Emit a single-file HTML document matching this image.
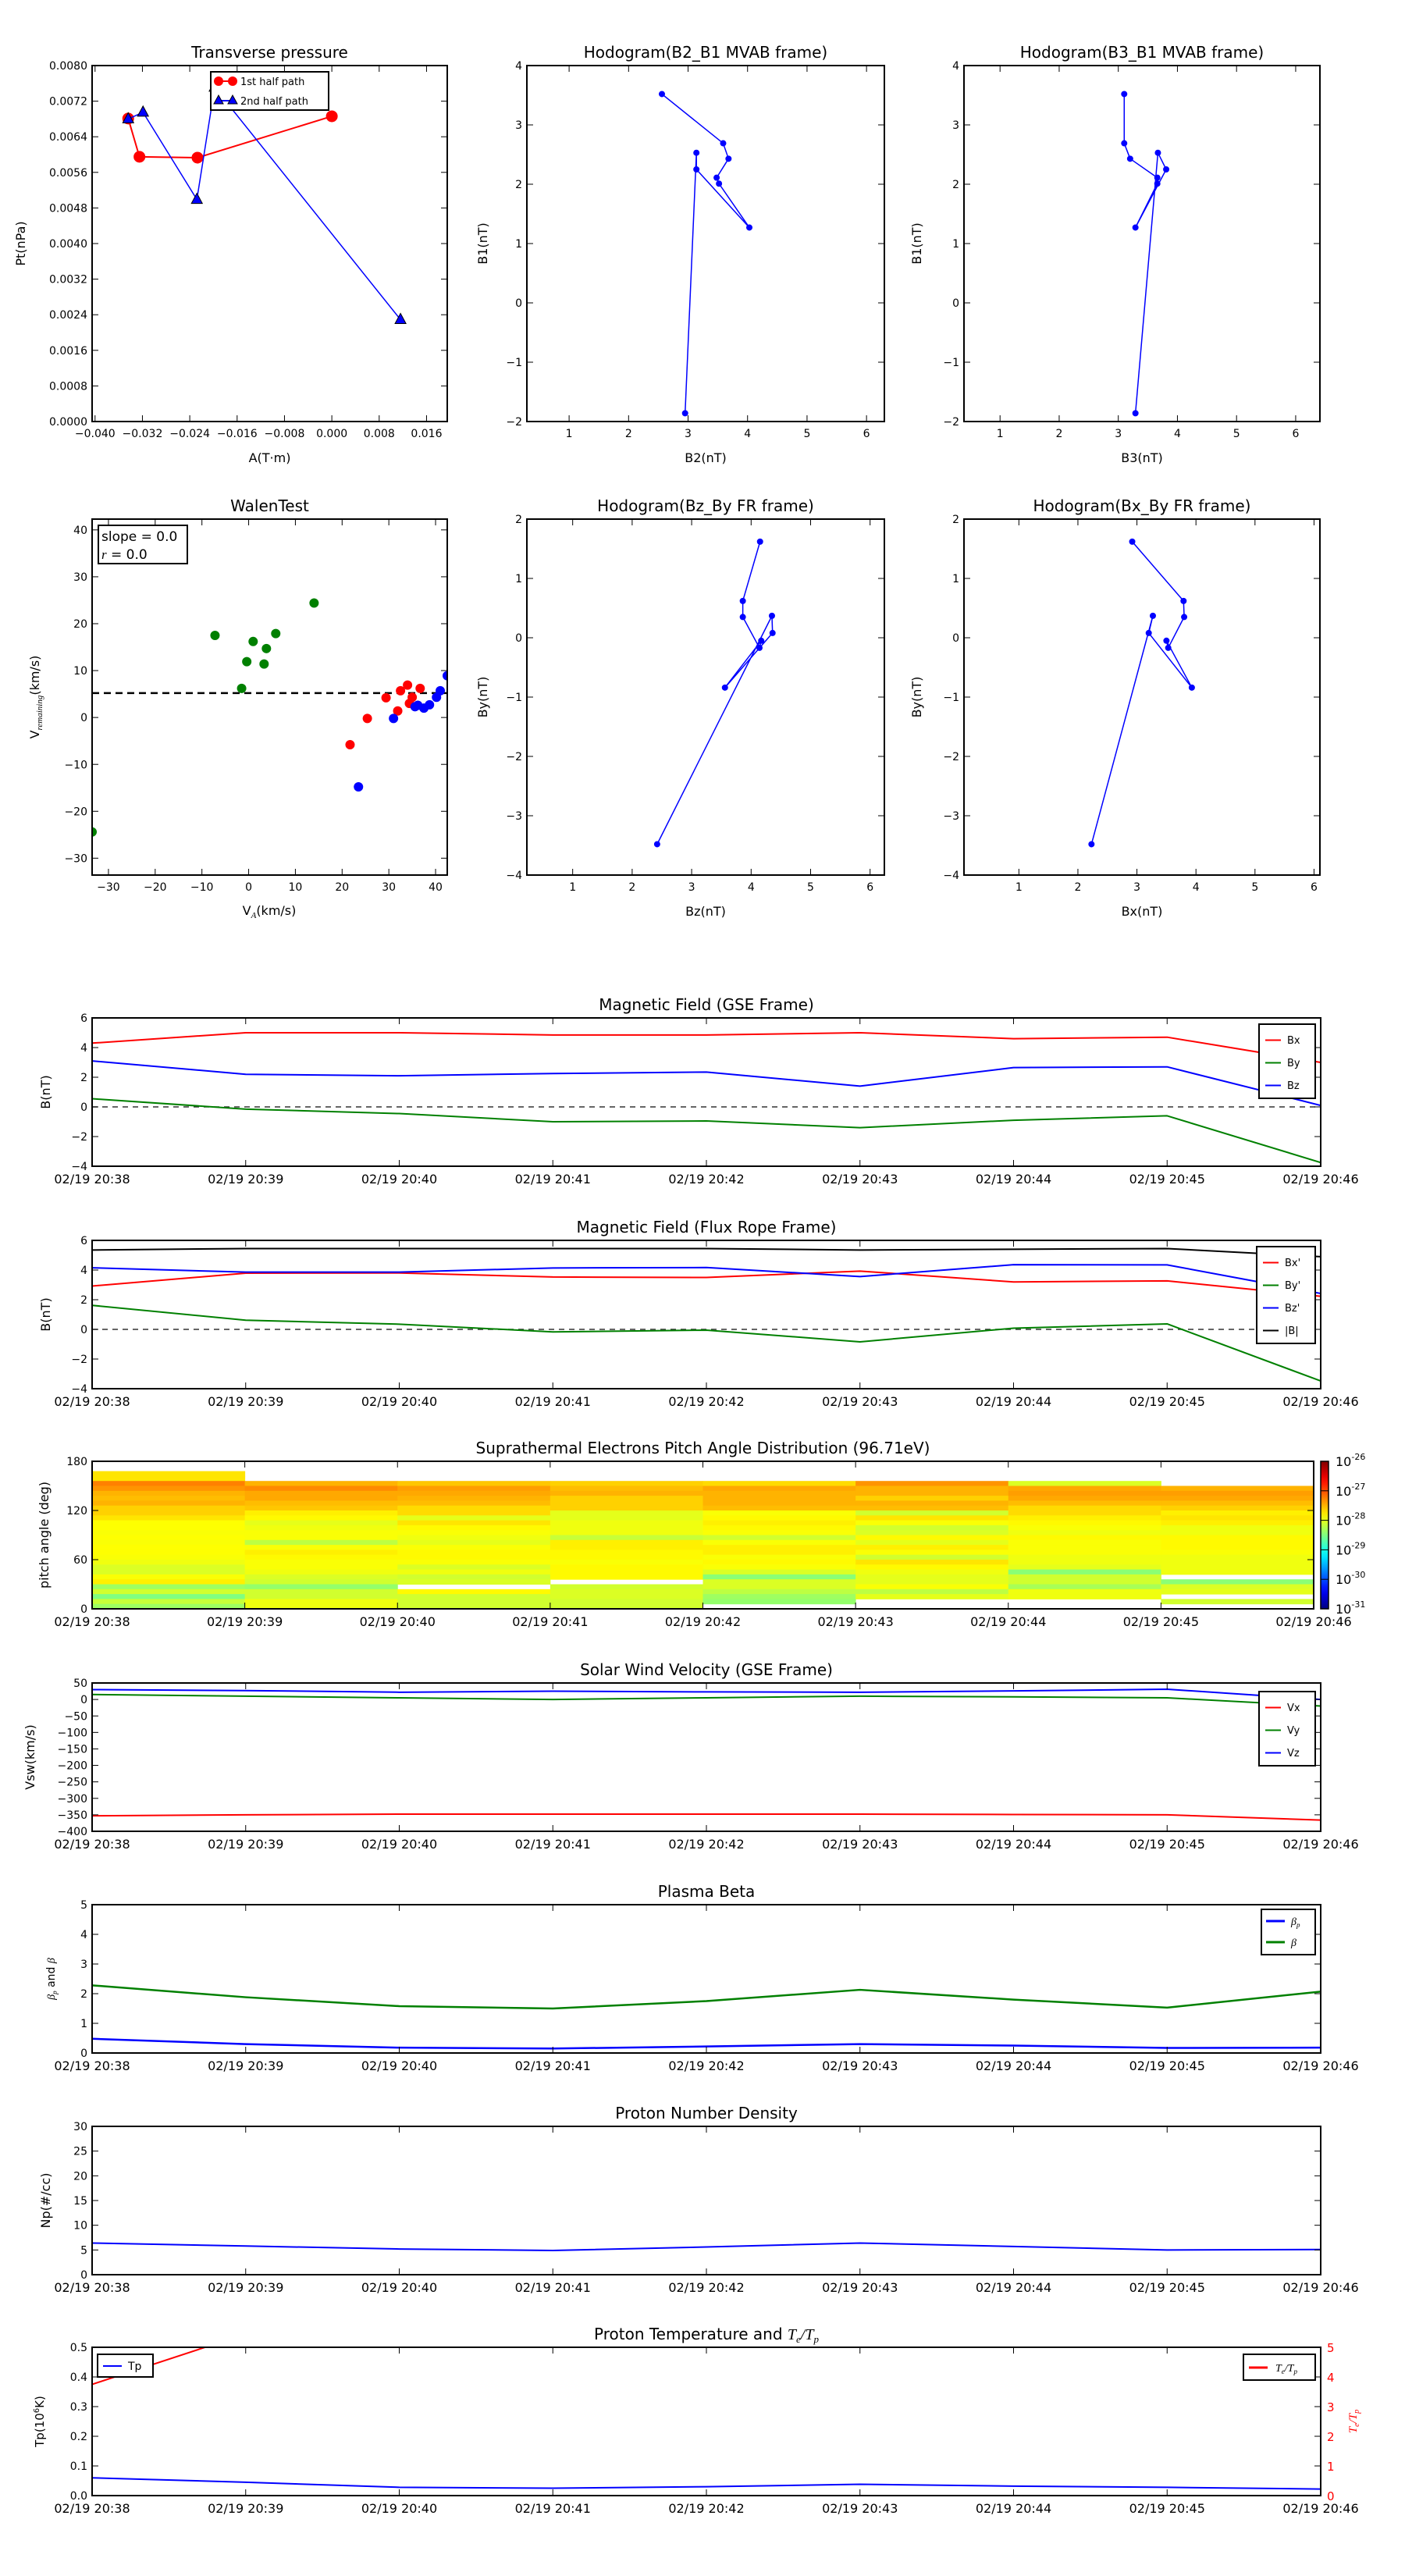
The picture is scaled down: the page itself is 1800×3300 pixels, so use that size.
<!DOCTYPE html>
<html><head><meta charset="utf-8"><title>Flux rope analysis</title>
<style>
html,body{margin:0;padding:0;background:#fff;}
svg{display:block;font-family:"DejaVu Sans","Liberation Sans",sans-serif;}
</style></head>
<body>
<svg id="chart" xmlns="http://www.w3.org/2000/svg" width="1800" height="3300" viewBox="0 0 1800 3300"></svg>
<script>
// ---------- DATA ----------
const timeLabels = ['02/19 20:38','02/19 20:39','02/19 20:40','02/19 20:41','02/19 20:42','02/19 20:43','02/19 20:44','02/19 20:45','02/19 20:46'];
const timeIdx = [0,1,2,3,4,5,6,7,8];
// Transverse pressure
const ptA1 = [-0.0344,-0.0325,-0.0227,0.0];
const ptP1 = [0.00681,0.00595,0.00593,0.00686];
const ptA2 = [-0.0344,-0.0319,-0.0228,-0.0198,0.0116];
const ptP2 = [0.0068,0.00695,0.00499,0.00751,0.00229];
// MVAB hodograms
const mvB1 = [3.52,2.69,2.43,2.11,2.01,1.27,2.25,2.53,-1.86];
const mvB2 = [2.56,3.59,3.68,3.48,3.52,4.03,3.14,3.14,2.95];
const mvB3 = [3.10,3.10,3.20,3.66,3.66,3.29,3.81,3.67,3.29];
// Flux rope frame
const frBx = [2.92,3.79,3.80,3.53,3.50,3.93,3.20,3.27,2.23];
const frBy = [1.62,0.62,0.35,-0.17,-0.05,-0.84,0.08,0.37,-3.48];
const frBz = [4.15,3.86,3.86,4.14,4.17,3.56,4.36,4.35,2.42];
const frBt = [5.35,5.45,5.45,5.45,5.45,5.35,5.4,5.45,4.9];
// Walen test
const walenGreenX = [-33.5,-7.2,0.96,-0.4,3.3,3.8,5.8,14,-1.5];
const walenGreenY = [-24.4,17.5,16.2,11.9,11.4,14.7,17.9,24.4,6.2];
const walenRedX = [21.7,25.4,29.4,31.9,32.5,34.0,34.4,35,36.7];
const walenRedY = [-5.8,-0.2,4.2,1.4,5.7,6.9,3.0,4.3,6.2];
const walenBlueX = [23.5,31,35.6,36.2,37.5,38.7,40.2,41,42.5];
const walenBlueY = [-14.8,-0.2,2.3,2.6,2.0,2.7,4.3,5.7,8.9];
const walenRef = 5.2;
// GSE field
const gseBx = [4.3,5.0,5.0,4.85,4.85,5.0,4.6,4.7,3.0];
const gseBy = [0.55,-0.15,-0.45,-1.0,-0.95,-1.4,-0.9,-0.6,-3.75];
const gseBz = [3.1,2.2,2.1,2.25,2.35,1.4,2.65,2.7,0.1];
// Solar wind
const vx = [-353,-350,-348,-348,-348,-348,-349,-350,-366];
const vy = [15,10,5,0,5,10,8,5,-20];
const vz = [30,27,22,25,23,22,26,31,0];
// Plasma beta
const betaP = [0.48,0.3,0.18,0.15,0.22,0.3,0.25,0.17,0.18];
const betaT = [2.28,1.88,1.58,1.5,1.75,2.13,1.8,1.53,2.07];
// Density / temperature
const np = [6.4,5.8,5.2,4.9,5.6,6.4,5.7,5.0,5.1];
const tp = [0.06,0.045,0.028,0.025,0.03,0.038,0.032,0.028,0.022];
const teTpTime = [0,1];
const teTp = [3.75,5.45];
// Pitch angle distribution: log10 values, rows from top (174-180 deg) down to 0-6 deg
const N = null;
const padCol0 = [N,N,-27.75,-27.75,-27.25,-27.35,-27.5,-27.55,-27.5,-27.65,-27.65,-27.75,-27.88,-27.88,-27.9,-27.88,-27.9,-27.88,-27.88,-27.9,-27.95,-28.05,-28.05,-27.9,-27.8,-28.35,-28.1,-28.5,-28.15,-28.35];
const padCol1 = [N,N,N,N,-27.5,-27.3,-27.45,-27.45,-27.55,-27.6,-27.8,-27.85,-28.0,-27.95,-27.9,-27.9,-28.2,-27.9,-27.8,-27.85,-27.9,-27.9,-27.95,-28.05,-28.1,-28.4,-28.1,-28.1,-27.95,-27.95];
const padCol2 = [N,N,N,N,-27.6,-27.4,-27.45,-27.5,-27.55,-27.7,-27.7,-28.0,-27.75,-27.85,-27.9,-27.95,-28.0,-27.9,-27.85,-27.85,-27.9,-28.05,-27.95,-28.1,-28.05,N,-27.85,-28.1,-28.1,-28.1];
const padCol3 = [N,N,N,N,-27.65,-27.55,-27.5,-27.65,-27.65,-27.65,-28.0,-28.0,-27.95,-27.95,-27.95,-28.15,-27.8,-27.8,-27.85,-27.85,-27.9,-27.85,-27.85,-27.85,N,-28.1,-28.05,-28.05,-28.1,-28.1];
const padCol4 = [N,N,N,N,-27.7,-27.45,-27.5,-27.5,-27.5,-27.55,-27.9,-27.85,-27.8,-27.85,-27.9,-28.1,-27.9,-27.8,-27.8,-27.9,-27.85,-27.9,-28.05,-28.45,-28.05,-28.05,-28.2,-28.35,-28.4,N];
const padCol5 = [N,N,N,N,-27.35,-27.5,-27.5,-27.65,-27.5,-27.55,-28.1,-27.75,-27.9,-28.1,-28.05,-27.85,-28.0,-27.8,-27.9,-28.1,-27.75,-27.85,-27.95,-28.0,-28.0,-27.9,-28.2,-28.0,N,N];
const padCol6 = [N,N,N,N,-28.05,-27.45,-27.4,-27.45,-27.55,-27.7,-27.7,-27.8,-27.85,-27.9,-27.95,-27.85,-27.9,-27.9,-27.9,-27.95,-27.95,-28.0,-28.45,-28.1,-28.1,-28.3,-27.95,-27.95,N,N];
const padCol7 = [N,N,N,N,N,-27.5,-27.4,-27.45,-27.55,-27.65,-27.8,-27.75,-27.8,-27.95,-27.95,-27.85,-27.85,-27.85,-27.9,-27.95,-27.95,-27.95,-27.95,N,-28.45,-28.05,-28.0,N,-28.1,N];
const padCols = [padCol0,padCol1,padCol2,padCol3,padCol4,padCol5,padCol6,padCol7];
const cbTicks = [-31,-30,-29,-28,-27,-26];

// ---------- HELPERS ----------
const NS = 'http://www.w3.org/2000/svg';
const svg = document.getElementById('chart');
function mk(tag, attrs, parent){
  const e = document.createElementNS(NS, tag);
  for (const k in attrs) e.setAttribute(k, attrs[k]);
  parent.appendChild(e);
  return e;
}
function txt(parent, x, y, s, size, anchor, extra){
  const a = {x:x, y:y, 'font-size':size, 'text-anchor':anchor||'middle', fill:'#000'};
  if (extra) for (const k in extra) a[k] = extra[k];
  const t = mk('text', a, parent);
  t.textContent = s;
  return t;
}
let clipId = 0;
function makeAxes(name, box, xd, yd, xt, xtl, yt, ytl, xfs, yfs){
  const g = mk('g', {}, svg);
  
  
  const sx = v => box.x + (v - xd[0]) / (xd[1] - xd[0]) * box.w;
  const sy = v => box.y + box.h - (v - yd[0]) / (yd[1] - yd[0]) * box.h;
  const cid = 'clip' + (clipId++);
  const cp = mk('clipPath', {id: cid}, g);
  mk('rect', {x: box.x, y: box.y, width: box.w, height: box.h}, cp);
  const data = mk('g', {'clip-path': 'url(#' + cid + ')'}, g);
  
  
  const fr = mk('g', {}, g);
  xt.forEach((v, i) => {
    const x = sx(v);
    mk('line', {x1:x, x2:x, y1:box.y+box.h, y2:box.y+box.h-8, stroke:'#000', 'stroke-width':1}, fr);
    mk('line', {x1:x, x2:x, y1:box.y, y2:box.y+8, stroke:'#000', 'stroke-width':1}, fr);
    const t = txt(fr, x, box.y + box.h + (xfs > 15 ? 22 : 20), xtl[i], xfs);
    
    
  });
  yt.forEach((v, i) => {
    const y = sy(v);
    mk('line', {x1:box.x, x2:box.x+8, y1:y, y2:y, stroke:'#000', 'stroke-width':1}, fr);
    mk('line', {x1:box.x+box.w, x2:box.x+box.w-8, y1:y, y2:y, stroke:'#000', 'stroke-width':1}, fr);
    const t = txt(fr, box.x - 6, y + yfs*0.36, ytl[i], yfs, 'end');
    
    
  });
  const frame = mk('rect', {x:box.x, y:box.y, width:box.w, height:box.h, fill:'none', stroke:'#000', 'stroke-width':2}, fr);
  
  
  return {g, data, fr, sx, sy, box};
}
function polyline(ax, xs, ys, color, w, name){
  const pts = xs.map((x, i) => ax.sx(x).toFixed(2) + ',' + ax.sy(ys[i]).toFixed(2)).join(' ');
  const p = mk('polyline', {points: pts, fill:'none', stroke: color, 'stroke-width': w, 'stroke-linejoin':'round'}, ax.data);
  
  
  return p;
}
function dots(ax, xs, ys, color, r, name){
  xs.forEach((x, i) => {
    const c = mk('circle', {cx: ax.sx(x), cy: ax.sy(ys[i]), r: r, fill: color, stroke: color}, ax.data);
    
    
  });
}
function title(ax, s, dy){
  const t = txt(svg, ax.box.x + ax.box.w/2, ax.box.y - (dy||10), s, 20);
  
  
  return t;
}
function xlabel(ax, s, dy){
  const t = txt(svg, ax.box.x + ax.box.w/2, ax.box.y + ax.box.h + (dy||48), s, 16);
  
  
  return t;
}
function ylabel(ax, s, x){
  const cy = ax.box.y + ax.box.h/2;
  const t = txt(svg, x, cy, s, 16, 'middle', {transform: 'rotate(-90 ' + x + ' ' + cy + ')'});
  
  
  return t;
}
function fmt(v, d){ const s = v.toFixed(d); return v < 0 ? '\u2212' + s.slice(1) : s; }
function legend(x, y, w, entries, fs){
  const g = mk('g', {}, svg);
  
  
  const h = entries.length * (fs + 16) + 8;
  mk('rect', {x:x, y:y, width:w, height:h, fill:'#fff', stroke:'#000', 'stroke-width':2}, g);
  entries.forEach((e, i) => {
    const yy = y + 4 + (fs + 16) * (i + 0.5) + 2;
    const it = mk('g', {}, g);
    
    
    mk('line', {x1:x+8, x2:x+28, y1:yy, y2:yy, stroke:e.c, 'stroke-width':2}, it);
    txt(it, x+36, yy + fs*0.35, e.t, fs, 'start');
  });
  return g;
}

// ---------- TOP ROW ----------
const ptXt = [-0.040,-0.032,-0.024,-0.016,-0.008,0.0,0.008,0.016];
const ptYt = [0,0.0008,0.0016,0.0024,0.0032,0.0040,0.0048,0.0056,0.0064,0.0072,0.0080];
const axP = makeAxes('transverse-pressure-chart', {x:118,y:84,w:455,h:456}, [-0.0405,0.0195], [0,0.008],
  ptXt, ptXt.map(v => fmt(v,3)), ptYt, ptYt.map(v => fmt(v,4)), 14, 14);
title(axP, 'Transverse pressure');
xlabel(axP, 'A(T\u00b7m)', 52);
ylabel(axP, 'Pt(nPa)', 32);
polyline(axP, ptA1, ptP1, '#f00', 2, 'first-half-path-line');
dots(axP, ptA1, ptP1, '#f00', 7, 'first-half-point');
polyline(axP, ptA2, ptP2, '#00f', 1.5, 'second-half-path-line');
ptA2.forEach((a, i) => {
  const x = axP.sx(a), y = axP.sy(ptP2[i]);
  const tri = mk('polygon', {points: x+','+(y-8)+' '+(x-7)+','+(y+5)+' '+(x+7)+','+(y+5), fill:'#00f', stroke:'#000', 'stroke-width':1}, axP.data);
  
  
});
{
  const lg = mk('g', {}, svg);
  
  
  mk('rect', {x:270, y:92, width:151, height:49, fill:'#fff', stroke:'#000', 'stroke-width':2}, lg);
  mk('line', {x1:276, x2:302, y1:104, y2:104, stroke:'#f00', 'stroke-width':2}, lg);
  mk('circle', {cx:280, cy:104, r:6, fill:'#f00'}, lg);
  mk('circle', {cx:298, cy:104, r:6, fill:'#f00'}, lg);
  txt(lg, 308, 109, '1st half path', 13, 'start');
  mk('line', {x1:276, x2:302, y1:129, y2:129, stroke:'#00f', 'stroke-width':2}, lg);
  mk('polygon', {points:'280,122 274,133 286,133', fill:'#00f', stroke:'#000'}, lg);
  mk('polygon', {points:'298,122 292,133 304,133', fill:'#00f', stroke:'#000'}, lg);
  txt(lg, 308, 134, '2nd half path', 13, 'start');
}

const hodXt = [1,2,3,4,5,6];
const hodXl = ['1','2','3','4','5','6'];
const hodYt1 = [-2,-1,0,1,2,3,4];
const hodYt2 = [-4,-3,-2,-1,0,1,2];
const axH1 = makeAxes('hodogram-b2-b1', {x:675,y:84,w:458,h:456}, [0.29,6.3], [-2,4], hodXt, hodXl, hodYt1, hodYt1.map(v=>fmt(v,0)), 14, 14);
title(axH1, 'Hodogram(B2_B1 MVAB frame)');
xlabel(axH1, 'B2(nT)', 52);
ylabel(axH1, 'B1(nT)', 624);
polyline(axH1, mvB2, mvB1, '#00f', 1.5, 'hodogram-path');
dots(axH1, mvB2, mvB1, '#00f', 3.5, 'hodogram-point');
const axH2 = makeAxes('hodogram-b3-b1', {x:1235,y:84,w:456,h:456}, [0.39,6.41], [-2,4], hodXt, hodXl, hodYt1, hodYt1.map(v=>fmt(v,0)), 14, 14);
title(axH2, 'Hodogram(B3_B1 MVAB frame)');
xlabel(axH2, 'B3(nT)', 52);
ylabel(axH2, 'B1(nT)', 1180);
polyline(axH2, mvB3, mvB1, '#00f', 1.5, 'hodogram-path');
dots(axH2, mvB3, mvB1, '#00f', 3.5, 'hodogram-point');

const wXt = [-30,-20,-10,0,10,20,30,40];
const wYt = [-30,-20,-10,0,10,20,30,40];
const axW = makeAxes('walen-test-chart', {x:118,y:665,w:455,h:456}, [-33.5,42.5], [-33.6,42.3], wXt, wXt.map(v=>fmt(v,0)), wYt, wYt.map(v=>fmt(v,0)), 14, 14);
title(axW, 'WalenTest');
{
  const t = txt(svg, 345, 1172, '', 16);
  
  
  t.innerHTML = 'V<tspan font-size="11" dy="4" font-style="italic" font-family="Liberation Serif, serif">A</tspan><tspan dy="-4">(km/s)</tspan>';
  const cy = 893;
  const t2 = txt(svg, 50, cy, '', 16, 'middle', {transform:'rotate(-90 50 '+cy+')'});
  
  
  t2.innerHTML = 'V<tspan font-size="11" dy="4" font-style="italic" font-family="Liberation Serif, serif">remaining</tspan><tspan dy="-4">(km/s)</tspan>';
}
{
  const l = mk('line', {x1:axW.sx(-33.5), x2:axW.sx(42.5), y1:axW.sy(walenRef), y2:axW.sy(walenRef), stroke:'#000', 'stroke-width':2.5, 'stroke-dasharray':'9,6'}, axW.data);
  
  
}
dots(axW, walenGreenX, walenGreenY, '#008000', 5.5, 'walen-point-green');
dots(axW, walenRedX, walenRedY, '#f00', 5.5, 'walen-point-red');
dots(axW, walenBlueX, walenBlueY, '#00f', 5.5, 'walen-point-blue');
{
  const g = mk('g', {}, svg);
  
  
  mk('rect', {x:126, y:673, width:114, height:49, fill:'#fff', stroke:'#000', 'stroke-width':2}, g);
  txt(g, 130, 693, 'slope = 0.0', 17, 'start');
  const t = txt(g, 130, 716, '', 17, 'start');
  t.innerHTML = '<tspan font-style="italic" font-family="Liberation Serif, serif">r</tspan> = 0.0';
}
const axH3 = makeAxes('hodogram-bz-by', {x:675,y:665,w:458,h:456}, [0.23,6.24], [-4,2], hodXt, hodXl, hodYt2, hodYt2.map(v=>fmt(v,0)), 14, 14);
title(axH3, 'Hodogram(Bz_By FR frame)');
xlabel(axH3, 'Bz(nT)', 52);
ylabel(axH3, 'By(nT)', 624);
polyline(axH3, frBz, frBy, '#00f', 1.5, 'hodogram-path');
dots(axH3, frBz, frBy, '#00f', 3.5, 'hodogram-point');
const axH4 = makeAxes('hodogram-bx-by', {x:1235,y:665,w:456,h:456}, [0.07,6.1], [-4,2], hodXt, hodXl, hodYt2, hodYt2.map(v=>fmt(v,0)), 14, 14);
title(axH4, 'Hodogram(Bx_By FR frame)');
xlabel(axH4, 'Bx(nT)', 52);
ylabel(axH4, 'By(nT)', 1180);
polyline(axH4, frBx, frBy, '#00f', 1.5, 'hodogram-path');
dots(axH4, frBx, frBy, '#00f', 3.5, 'hodogram-point');

// ---------- TIME SERIES ----------
const tsX = 118, tsW = 1574, tsH = 190;
function tsAxes(name, y, yd, yt, ytl, w){
  return makeAxes(name, {x:tsX, y:y, w:(w||tsW), h:tsH}, [0,8], yd, timeIdx, timeLabels, yt, ytl, 16, 14);
}
function zeroLine(ax){
  const l = mk('line', {x1:ax.box.x, x2:ax.box.x+ax.box.w, y1:ax.sy(0), y2:ax.sy(0), stroke:'#333', 'stroke-width':1.5, 'stroke-dasharray':'7,6'}, ax.data);
  
  
}
const bYt = [-4,-2,0,2,4,6];
const axG = tsAxes('magnetic-field-gse-chart', 1304, [-4,6], bYt, bYt.map(v=>fmt(v,0)));
title(axG, 'Magnetic Field (GSE Frame)');
ylabel(axG, 'B(nT)', 64);
zeroLine(axG);
polyline(axG, timeIdx, gseBx, '#f00', 2, 'bx-line');
polyline(axG, timeIdx, gseBy, '#008000', 2, 'by-line');
polyline(axG, timeIdx, gseBz, '#00f', 2, 'bz-line');
legend(1613, 1312, 72, [{c:'#f00',t:'Bx'},{c:'#008000',t:'By'},{c:'#00f',t:'Bz'}], 13);
const axF = tsAxes('magnetic-field-flux-rope-chart', 1589, [-4,6], bYt, bYt.map(v=>fmt(v,0)));
title(axF, 'Magnetic Field (Flux Rope Frame)');
ylabel(axF, 'B(nT)', 64);
zeroLine(axF);
polyline(axF, timeIdx, frBx, '#f00', 2, 'bx-prime-line');
polyline(axF, timeIdx, frBy, '#008000', 2, 'by-prime-line');
polyline(axF, timeIdx, frBz, '#00f', 2, 'bz-prime-line');
polyline(axF, timeIdx, frBt, '#000', 2, 'b-magnitude-line');
legend(1610, 1597, 75, [{c:'#f00',t:"Bx'"},{c:'#008000',t:"By'"},{c:'#00f',t:"Bz'"},{c:'#000',t:'|B|'}], 13);

function jet(f){
  f = Math.max(0, Math.min(1, f));
  const c = v => Math.round(255 * Math.max(0, Math.min(1, v)));
  return 'rgb(' + c(1.5 - Math.abs(4*f - 3)) + ',' + c(1.5 - Math.abs(4*f - 2)) + ',' + c(1.5 - Math.abs(4*f - 1)) + ')';
}
const paYt = [0,60,120,180];
const axH = makeAxes('pitch-angle-heatmap', {x:tsX, y:1872, w:1565, h:189}, [0,8], [0,180], timeIdx, timeLabels, paYt, paYt.map(String), 16, 14);
title(axH, 'Suprathermal Electrons Pitch Angle Distribution (96.71eV)');
ylabel(axH, 'pitch angle (deg)', 62);
padCols.forEach((col, ci) => {
  col.forEach((v, k) => {
    if (v === null) return;
    const hi = 180 - 6*k, lo = hi - 6;
    const r = mk('rect', {x: axH.sx(ci), y: axH.sy(hi), width: axH.sx(ci+1) - axH.sx(ci) + 0.5, height: axH.sy(lo) - axH.sy(hi) + 0.5, fill: jet((v + 31) / 5)}, axH.data);
    
    
  });
});
{
  const defs = mk('defs', {}, svg);
  const lg = mk('linearGradient', {id:'jetgrad', x1:0, y1:1, x2:0, y2:0}, defs);
  for (let i = 0; i <= 20; i++) mk('stop', {offset: (i/20), 'stop-color': jet(i/20)}, lg);
  const cb = mk('g', {}, svg);
  
  
  const top = 1872, bot = 2061;
  mk('rect', {x:1692, y:top, width:10, height:bot-top, fill:'url(#jetgrad)', stroke:'#000', 'stroke-width':1.5}, cb);
  cbTicks.forEach(v => {
    const y = bot - (v + 31) / 5 * (bot - top);
    mk('line', {x1:1692, x2:1702, y1:y, y2:y, stroke:'#000', 'stroke-width':1}, cb);
    const t = txt(cb, 1711, y + 6, '', 16, 'start');
    
    
    t.innerHTML = '10<tspan font-size="11" dy="-8">' + fmt(v,0).replace('\u2212','-') + '</tspan>';
  });
}

const vYt = [-400,-350,-300,-250,-200,-150,-100,-50,0,50];
const axV = tsAxes('solar-wind-velocity-chart', 2156, [-400,50], vYt, vYt.map(v=>fmt(v,0)));
title(axV, 'Solar Wind Velocity (GSE Frame)');
ylabel(axV, 'Vsw(km/s)', 44);
polyline(axV, timeIdx, vx, '#f00', 2, 'vx-line');
polyline(axV, timeIdx, vy, '#008000', 2, 'vy-line');
polyline(axV, timeIdx, vz, '#00f', 2, 'vz-line');
legend(1613, 2167, 72, [{c:'#f00',t:'Vx'},{c:'#008000',t:'Vy'},{c:'#00f',t:'Vz'}], 13);

const bbYt = [0,1,2,3,4,5];
const axB = tsAxes('plasma-beta-chart', 2440, [0,5], bbYt, bbYt.map(String));
title(axB, 'Plasma Beta');
{
  const cy = 2535;
  const t = txt(svg, 70, cy, '', 14, 'middle', {transform:'rotate(-90 70 '+cy+')'});
  
  
  t.innerHTML = '<tspan font-style="italic" font-family="Liberation Serif, serif">β</tspan><tspan font-size="9" dy="3" font-style="italic" font-family="Liberation Serif, serif">p</tspan><tspan dy="-3"> and </tspan><tspan font-style="italic" font-family="Liberation Serif, serif">β</tspan>';
}
polyline(axB, timeIdx, betaP, '#00f', 2.5, 'beta-p-line');
polyline(axB, timeIdx, betaT, '#008000', 2.5, 'beta-line');
{
  const g = mk('g', {}, svg);
  
  
  mk('rect', {x:1616, y:2446, width:69, height:58, fill:'#fff', stroke:'#000', 'stroke-width':2}, g);
  mk('line', {x1:1622, x2:1646, y1:2461, y2:2461, stroke:'#00f', 'stroke-width':3}, g);
  const t1 = txt(g, 1654, 2466, '', 14, 'start', {'font-family':'Liberation Serif, serif','font-style':'italic'});
  t1.innerHTML = 'β<tspan font-size="9" dy="3">p</tspan>';
  mk('line', {x1:1622, x2:1646, y1:2488, y2:2488, stroke:'#008000', 'stroke-width':3}, g);
  txt(g, 1654, 2493, 'β', 14, 'start', {'font-family':'Liberation Serif, serif','font-style':'italic'});
}

const nYt = [0,5,10,15,20,25,30];
const axN = tsAxes('proton-density-chart', 2724, [0,30], nYt, nYt.map(String));
title(axN, 'Proton Number Density');
ylabel(axN, 'Np(#/cc)', 64);
polyline(axN, timeIdx, np, '#00f', 2, 'np-line');

const tYt = [0,0.1,0.2,0.3,0.4,0.5];
const axT = tsAxes('proton-temperature-chart', 3007, [0,0.5], tYt, tYt.map(v=>v.toFixed(1)));
{
  const t = txt(svg, 905, 2997, '', 20);
  
  
  t.innerHTML = 'Proton Temperature and <tspan font-style="italic" font-family="Liberation Serif, serif">T</tspan><tspan font-size="13" dy="4" font-style="italic" font-family="Liberation Serif, serif">e</tspan><tspan dy="-4" font-style="italic" font-family="Liberation Serif, serif">/T</tspan><tspan font-size="13" dy="4" font-style="italic" font-family="Liberation Serif, serif">p</tspan>';
  const cy = 3102;
  const t2 = txt(svg, 56, cy, '', 15, 'middle', {transform:'rotate(-90 56 '+cy+')'});
  
  
  t2.innerHTML = 'Tp(10<tspan font-size="10" dy="-6">6</tspan><tspan dy="6">K)</tspan>';
}
polyline(axT, timeIdx, tp, '#00f', 2, 'tp-line');
const rYt = [0,1,2,3,4,5];
const syR = v => 3007 + 190 - v / 5 * 190;
rYt.forEach(v => {
  const y = syR(v);
  const t = txt(svg, 1700, y + 6, String(v), 15, 'start', {fill:'#f00'});
  
  
});
{
  const cy = 3102;
  const t = txt(svg, 1738, cy, '', 15, 'middle', {transform:'rotate(-90 1738 '+cy+')', fill:'#f00', 'font-family':'Liberation Serif, serif', 'font-style':'italic'});
  
  
  t.innerHTML = 'T<tspan font-size="10" dy="3">e</tspan><tspan dy="-3">/T</tspan><tspan font-size="10" dy="3">p</tspan>';
  const pts = teTpTime.map((x, i) => axT.sx(x).toFixed(2) + ',' + syR(teTp[i]).toFixed(2)).join(' ');
  const p = mk('polyline', {points: pts, fill:'none', stroke:'#f00', 'stroke-width':2}, axT.data);
  
  
}
{
  const g = mk('g', {}, svg);
  
  
  mk('rect', {x:125, y:3016, width:71, height:29, fill:'#fff', stroke:'#000', 'stroke-width':2}, g);
  mk('line', {x1:132, x2:156, y1:3031, y2:3031, stroke:'#00f', 'stroke-width':2}, g);
  txt(g, 164, 3036, 'Tp', 14, 'start');
  const g2 = mk('g', {}, svg);
  
  
  mk('rect', {x:1593, y:3016, width:92, height:33, fill:'#fff', stroke:'#000', 'stroke-width':2}, g2);
  mk('line', {x1:1600, x2:1624, y1:3033, y2:3033, stroke:'#f00', 'stroke-width':3}, g2);
  const t = txt(g2, 1634, 3038, '', 14, 'start', {'font-family':'Liberation Serif, serif','font-style':'italic'});
  t.innerHTML = 'T<tspan font-size="9" dy="3">e</tspan><tspan dy="-3">/T</tspan><tspan font-size="9" dy="3">p</tspan>';
}
</script>
</body></html>
